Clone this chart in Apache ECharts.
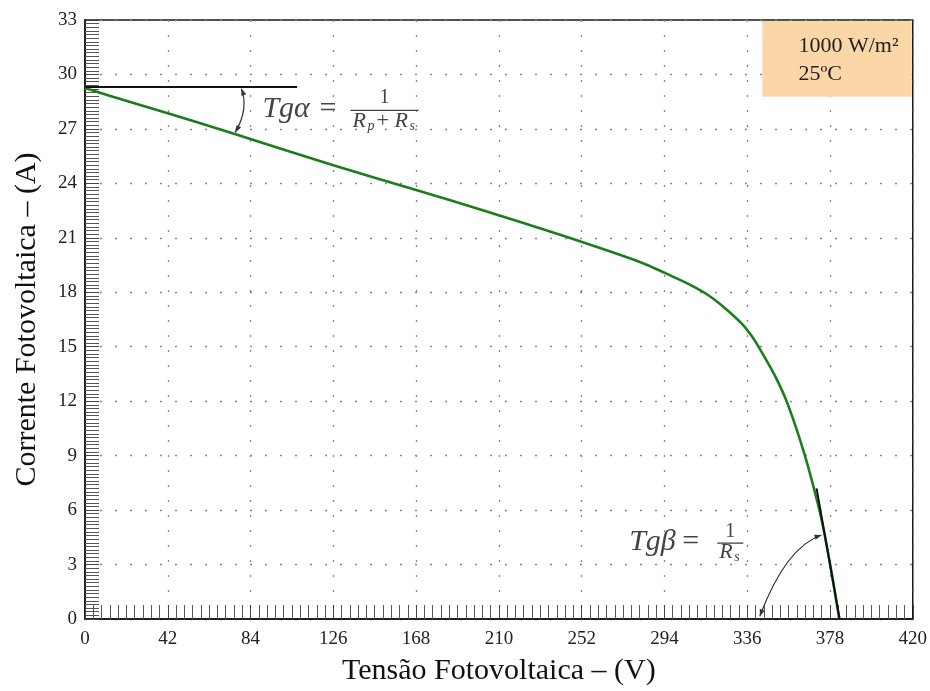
<!DOCTYPE html>
<html>
<head>
<meta charset="utf-8">
<script src="https://cdn.jsdelivr.net/npm/echarts@6/dist/echarts.min.js"></script>
<style>html,body{margin:0;padding:0;background:#fff}#c{width:930px;height:691px}</style>
</head>
<body>
<div id="c"></div>
<script>
// ---- data ----
const voltage = [0, 20, 42, 76, 126, 168, 201, 241.5, 282.2, 299.1, 307.6, 316.1, 324.6, 333, 338.1, 341.5, 350, 356.8, 365.2, 372, 375.3, 379.6, 382.7];
const current = [29.25, 28.58, 27.86, 26.72, 25.0, 23.63, 22.55, 21.15, 19.64, 18.82, 18.38, 17.85, 17.14, 16.3, 15.62, 15.05, 13.42, 11.77, 9.03, 6.28, 4.64, 2.07, 0.0];
const xTicks = [0, 42, 84, 126, 168, 210, 252, 294, 336, 378, 420];
const yTicks = [0, 3, 6, 9, 12, 15, 18, 21, 24, 27, 30, 33];
const tangentIsc = [[0, 29.3], [107.6, 29.3]];
const tangentVoc = [[371.2, 7.2], [382.9, 0]];
const legendLines = ['1000 W/m²', '25ºC'];

const serif = '"Liberation Serif", "DejaVu Serif", serif';
const chart = echarts.init(document.getElementById('c'), null, {renderer: 'canvas'});

const option = {
  animation: false,
  backgroundColor: '#fff',
  grid: {left: 85, top: 20, width: 828, height: 601, show: true, borderColor: '#1a1a1a', borderWidth: 1.5, backgroundColor: 'transparent', containLabel: false},
  xAxis: {
    type: 'value', min: xTicks[0], max: xTicks[xTicks.length - 1], interval: 42,
    name: 'Tensão Fotovoltaica – (V)', nameLocation: 'middle', nameGap: 37,
    nameTextStyle: {fontFamily: serif, fontSize: 30, color: '#111'},
    axisLine: {show: true, lineStyle: {color: '#222', width: 2}},
    axisTick: {show: true, inside: true, length: 14, lineStyle: {color: '#444', width: 1}},
    minorTick: {show: true, splitNumber: 10, length: 14, lineStyle: {color: '#555', width: 1}},
    axisLabel: {fontFamily: serif, fontSize: 19, color: '#222', margin: 11},
    splitLine: {show: true, lineStyle: {color: '#888', type: [2, 13], width: 1.3}}
  },
  yAxis: {
    type: 'value', min: yTicks[0], max: yTicks[yTicks.length - 1], interval: 3,
    name: 'Corrente Fotovoltaica – (A)', nameLocation: 'middle', nameGap: 43,
    nameTextStyle: {fontFamily: serif, fontSize: 30, color: '#111'},
    axisLine: {show: true, lineStyle: {color: '#222', width: 2}},
    axisTick: {show: true, inside: true, length: 14, lineStyle: {color: '#444', width: 1}},
    minorTick: {show: true, splitNumber: 15, length: 14, lineStyle: {color: '#555', width: 1}},
    axisLabel: {fontFamily: serif, fontSize: 19, color: '#222', margin: 8},
    splitLine: {show: true, lineStyle: {color: '#888', type: [2, 13], width: 1.3}}
  },
  series: [{
    type: 'line',
    data: voltage.map((v, i) => [v, current[i]]),
    smooth: 0.25,
    showSymbol: false,
    lineStyle: {color: '#1c7d1c', width: 2.6},
    markLine: {
      silent: true, symbol: ['none', 'none'], animation: false,
      label: {show: false},
      lineStyle: {color: '#111', width: 2, type: 'solid'},
      data: [
        [{coord: tangentIsc[0]}, {coord: tangentIsc[1]}],
        [{coord: tangentVoc[0]}, {coord: tangentVoc[1]}]
      ]
    },
    z: 3
  }]
};
chart.setOption(option);

const P = (v, i) => chart.convertToPixel({gridIndex: 0}, [v, i]);
const ink = '#444';

function arrowHead(tip, from, color) {
  const dx = tip[0] - from[0], dy = tip[1] - from[1];
  const L = Math.hypot(dx, dy) || 1;
  const ux = dx / L, uy = dy / L;
  const len = 7, w = 2.6;
  const bx = tip[0] - ux * len, by = tip[1] - uy * len;
  return {type: 'polygon', z: 10, shape: {points: [tip, [bx - uy * w, by + ux * w], [bx + uy * w, by - ux * w]]}, style: {fill: color}};
}
function curvedArrow(p0, c, p1, headStart, headEnd) {
  const a = P(...p0), cc = P(...c), b = P(...p1);
  const els = [{type: 'bezierCurve', z: 10, shape: {x1: a[0], y1: a[1], x2: b[0], y2: b[1], cpx1: cc[0], cpy1: cc[1]}, style: {stroke: '#333', lineWidth: 1.2, fill: null}}];
  if (headStart) els.push(arrowHead(a, cc, '#333'));
  if (headEnd) els.push(arrowHead(b, cc, '#333'));
  return els;
}
function txt(pos, text, size, opts) {
  const p = P(...pos);
  return {type: 'text', z: 10, x: p[0], y: p[1], style: Object.assign({text: text, fontFamily: serif, fontSize: size, fontStyle: 'italic', fill: ink, verticalAlign: 'middle', align: 'left'}, opts || {})};
}
function fraction(cx, yNum, yBar, yDen, halfW, subs, numSize, size, subSize) {
  const els = [];
  els.push(txt([cx, yNum], '1', numSize, {align: 'center', fontStyle: 'normal'}));
  const l = P(cx - halfW, yBar), r = P(cx + halfW, yBar);
  els.push({type: 'line', z: 10, shape: {x1: l[0], y1: l[1], x2: r[0], y2: r[1]}, style: {stroke: ink, lineWidth: 1.3}});
  const base = P(cx, yDen);
  const total = subs.reduce((s, p) => s + p.w, 0);
  let x = base[0] - total / 2;
  subs.forEach(p => {
    els.push({type: 'text', z: 10, x: x + (p.dx || 0), y: base[1] + (p.sub ? 5 : 0), style: {text: p.t, fontFamily: serif, fontSize: p.sub ? subSize : size, fontStyle: p.t === '+' ? 'normal' : 'italic', fill: ink, verticalAlign: 'middle'}});
    x += p.w;
  });
  return els;
}

function drawAnnotations() {
  const tl = P(xTicks[xTicks.length - 1], yTicks[yTicks.length - 1]);
  const bl = P(343.7, 28.77);
  const g = [];
  g.push({type: 'rect', z: 1, shape: {x: bl[0], y: tl[1] + 1, width: tl[0] - bl[0] - 1, height: bl[1] - tl[1] - 1}, style: {fill: '#fbd6a6'}});
  g.push(txt([362, 31.55], legendLines[0], 22, {fontStyle: 'normal', fill: '#222'}));
  g.push(txt([362, 30.0], legendLines[1], 22, {fontStyle: 'normal', fill: '#222'}));
  g.push(...curvedArrow([79.3, 29.22], [83.2, 28.13], [76.3, 26.81], true, true));
  g.push(txt([90, 28.1], 'Tgα', 30));
  g.push(txt([119, 28.1], '=', 30, {fontStyle: 'normal'}));
  g.push(...fraction(152, 28.7, 28.02, 27.4, 17.3, [{t: 'R', w: 15}, {t: 'p', w: 8, sub: true}, {t: '+', w: 19, dx: 1}, {t: 'R', w: 15}, {t: 's', w: 7, sub: true}], 20, 22, 14));
  g.push(...curvedArrow([342.4, 0.15], [355.5, 3.95], [373.7, 4.63], true, true));
  g.push(txt([276.1, 4.23], 'Tgβ', 30));
  g.push(txt([303, 4.23], '=', 30, {fontStyle: 'normal'}));
  g.push(...fraction(327.4, 4.8, 4.18, 3.7, 6.6, [{t: 'R', w: 15}, {t: 's', w: 7, sub: true}], 20, 22, 14));
  chart.setOption({graphic: {elements: g}});
}
drawAnnotations();
</script>
</body>
</html>
